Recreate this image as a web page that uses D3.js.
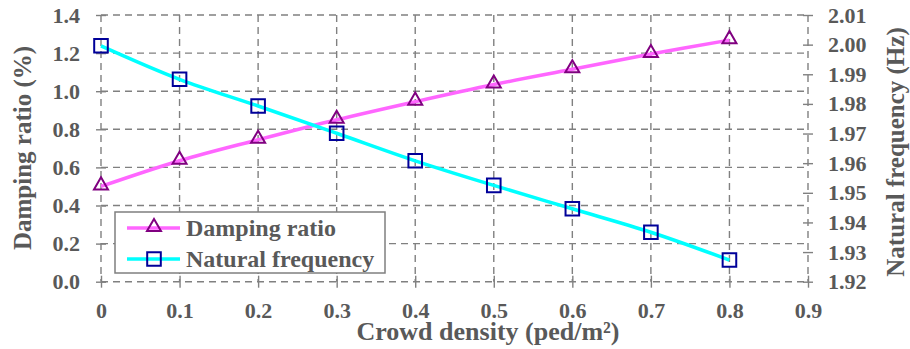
<!DOCTYPE html>
<html>
<head>
<meta charset="utf-8">
<script src="https://cdn.jsdelivr.net/npm/d3@7"></script>
<style>
  body { margin: 0; background: #fff; }
  text { font-family: "Liberation Serif", "Times New Roman", serif; font-weight: bold; fill: #595959; }
</style>
</head>
<body>
<script>
// values
var density = [0, 0.1, 0.2, 0.3, 0.4, 0.5, 0.6, 0.7, 0.8];
var damping = [0.50, 0.635, 0.745, 0.85, 0.945, 1.035, 1.115, 1.195, 1.268];
var frequency = [1.9996, 1.9883, 1.9793, 1.9701, 1.9608, 1.9525, 1.9446, 1.9367, 1.9273];
var xTicks = [0, 0.1, 0.2, 0.3, 0.4, 0.5, 0.6, 0.7, 0.8, 0.9];
var leftTicks = [0, 0.2, 0.4, 0.6, 0.8, 1.0, 1.2, 1.4];
var rightTicks = [1.92, 1.93, 1.94, 1.95, 1.96, 1.97, 1.98, 1.99, 2.00, 2.01];
var seriesNames = ["Damping ratio", "Natural frequency"];

var W = 910, H = 349;
var svg = d3.select("body").append("svg")
    .attr("width", W)
    .attr("height", H);

var x = d3.scaleLinear().domain([0, 0.9]).range([101, 808]);
var yL = d3.scaleLinear().domain([0, 1.4]).range([281.7, 15]);
var yR = d3.scaleLinear().domain([1.92, 2.01]).range([281.7, 15]);

var grey = "#808080";

// dashed grid
var grid = svg.append("g")
    .attr("stroke", grey)
    .attr("stroke-width", 1.4)
    .attr("stroke-dasharray", "7,5");
grid.selectAll("line.v").data(xTicks).enter().append("line")
    .attr("x1", function (d) { return x(d); })
    .attr("x2", function (d) { return x(d); })
    .attr("y1", yL(1.4))
    .attr("y2", yL(0));
grid.selectAll("line.h").data(leftTicks).enter().append("line")
    .attr("x1", x(0))
    .attr("x2", x(0.9))
    .attr("y1", function (d) { return yL(d); })
    .attr("y2", function (d) { return yL(d); });

// axes, ticks crossing the axis line
function crossTicks(g, horiz) {
  g.select(".domain").remove();
  g.selectAll(".tick line")
      .attr("stroke", grey)
      .attr("stroke-width", 1.4);
  if (horiz) g.selectAll(".tick line").attr("y1", -6).attr("y2", 6);
  else g.selectAll(".tick line").attr("x1", -5).attr("x2", 5);
  g.selectAll(".tick text").attr("fill", "#595959").style("font-size", "22px");
  g.attr("font-family", null).attr("font-size", null);
}

svg.append("g")
    .attr("transform", "translate(" + x(0) + ",0)")
    .call(d3.axisLeft(yL).tickValues(leftTicks).tickSize(5).tickPadding(16)
      .tickFormat(d3.format(".1f")))
    .call(crossTicks, false);

svg.append("g")
    .attr("transform", "translate(" + x(0.9) + ",0)")
    .call(d3.axisRight(yR).tickValues(rightTicks).tickSize(5).tickPadding(15)
      .tickFormat(d3.format(".2f")))
    .call(crossTicks, false);

svg.append("g")
    .attr("transform", "translate(0," + yL(0) + ")")
    .call(d3.axisBottom(x).tickValues(xTicks).tickSize(5).tickPadding(15.5)
      .tickFormat(function (d) { return d === 0 ? "0" : d.toFixed(1); }))
    .call(crossTicks, true);

// axis titles
svg.append("text")
    .attr("transform", "translate(31,148) rotate(-90)")
    .attr("text-anchor", "middle")
    .style("font-size", "25px")
    .text("Damping ratio (%)");

svg.append("text")
    .attr("transform", "translate(904,152) rotate(-90)")
    .attr("text-anchor", "middle")
    .style("font-size", "25px")
    .text("Natural frequency (Hz)");

svg.append("text")
    .attr("x", 488)
    .attr("y", 340)
    .attr("text-anchor", "middle")
    .style("font-size", "26px")
    .text("Crowd density (ped/m²)");

// series
var lineL = d3.line()
    .x(function (d, i) { return x(density[i]); })
    .y(function (d) { return yL(d); })
    .curve(d3.curveCatmullRom);
var lineR = d3.line()
    .x(function (d, i) { return x(density[i]); })
    .y(function (d) { return yR(d); })
    .curve(d3.curveCatmullRom);

var tri = d3.symbol().type(d3.symbolTriangle).size(85);
var sq = d3.symbol().type(d3.symbolSquare).size(185);

svg.append("path")
    .attr("d", lineL(damping))
    .attr("fill", "none")
    .attr("stroke", "#ff66ff")
    .attr("stroke-width", 3.5);
svg.append("path")
    .attr("d", lineR(frequency))
    .attr("fill", "none")
    .attr("stroke", "#00ffff")
    .attr("stroke-width", 3.5);

svg.selectAll("path.tri").data(damping).enter().append("path")
    .attr("class", "tri")
    .attr("d", tri)
    .attr("transform", function (d, i) { return "translate(" + x(density[i]) + "," + (yL(d) - 1) + ")"; })
    .attr("fill", "none")
    .attr("stroke", "#800080")
    .attr("stroke-width", 2);

svg.selectAll("path.sq").data(frequency).enter().append("path")
    .attr("class", "sq")
    .attr("d", sq)
    .attr("transform", function (d, i) { return "translate(" + x(density[i]) + "," + yR(d) + ")"; })
    .attr("fill", "none")
    .attr("stroke", "#000099")
    .attr("stroke-width", 2);

// legend
var lg = svg.append("g");
lg.append("rect")
    .attr("x", 115).attr("y", 212)
    .attr("width", 270).attr("height", 61)
    .attr("fill", "#fff")
    .attr("stroke", "#7f7f7f")
    .attr("stroke-width", 1.5);

var rows = [
  { name: seriesNames[0], color: "#ff66ff", mark: tri, edge: "#800080", y: 228 },
  { name: seriesNames[1], color: "#00ffff", mark: sq, edge: "#000099", y: 259 }
];
rows.forEach(function (r) {
  lg.append("line")
      .attr("x1", 127).attr("x2", 180)
      .attr("y1", r.y).attr("y2", r.y)
      .attr("stroke", r.color)
      .attr("stroke-width", 3.5);
  lg.append("path")
      .attr("d", r.mark)
      .attr("transform", "translate(154," + (r.mark === tri ? r.y - 1 : r.y) + ")")
      .attr("fill", "none")
      .attr("stroke", r.edge)
      .attr("stroke-width", 2);
  lg.append("text")
      .attr("x", 186)
      .attr("y", r.y)
      .attr("dy", "0.35em")
      .style("font-size", "24px")
      .text(r.name);
});
</script>
</body>
</html>
